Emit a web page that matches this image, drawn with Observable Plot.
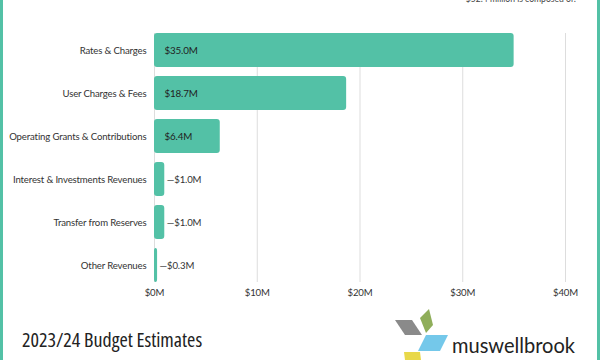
<!DOCTYPE html>
<html>
<head>
<meta charset="utf-8">
<script src="https://cdn.jsdelivr.net/npm/d3@7"></script>
<script src="https://cdn.jsdelivr.net/npm/@observablehq/plot@0.6"></script>
<style>
  html, body { margin: 0; padding: 0; background: #fff; }
  #wrap { position: relative; width: 600px; height: 360px; overflow: hidden; font-family: Lato, sans-serif; }
  .edge { position: absolute; top: 0; width: 3px; height: 360px; background: #53c1a6; }
  #topnote { position: absolute; top: -6px; right: 24px; font-size: 8.6px; line-height: 10px; color: #444; white-space: nowrap; font-family: Lato, sans-serif; }
  #chart { position: absolute; left: 0; top: 0; }
  #chart svg, #chart svg text { font-family: Lato, sans-serif !important; }
  #chart svg text { letter-spacing: -0.15px; }
  #title { position: absolute; left: 22px; top: 326px; font-family: "Open Sans", sans-serif; font-stretch: condensed; font-size: 20px; color: #222; white-space: nowrap; }
  #logo { position: absolute; left: 390px; top: 305px; }
</style>
</head>
<body>
<div id="wrap">
  <div class="edge" style="left:0"></div>
  <div class="edge" style="left:597px"></div>
  <div id="topnote">$52.4 million is composed of:</div>
  <div id="chart"></div>
  <div id="title">2023/24 Budget Estimates</div>
  <svg id="logo" width="200" height="55" viewBox="0 0 200 55">
    <polygon points="5,15 22,15 32,30 15,30" fill="#8a8a8a"/>
    <polygon points="39,4 43,20 36,28 30,13" fill="#8fae5a"/>
    <polygon points="36,30 58,30 50,46 28,46" fill="#74c8ea"/>
    <polygon points="14,47 30,47 31,55 15,55" fill="#e8d84a"/>
    <text x="62" y="48" font-family="Lato, sans-serif" font-size="21" fill="#222" textLength="123" lengthAdjust="spacingAndGlyphs">muswellbrook</text>
  </svg>
</div>
<script>
const categories = [
  "Rates & Charges",
  "User Charges & Fees",
  "Operating Grants & Contributions",
  "Interest & Investments Revenues",
  "Transfer from Reserves",
  "Other Revenues"
];
const values = [35.0, 18.7, 6.4, 1.0, 1.0, 0.3];
const xTicks = [0, 10, 20, 30, 40];

const data = categories.map((c, i) => ({category: c, value: values[i]}));
const inside = data.filter(d => d.value >= 5);
const outside = data.filter(d => d.value < 5);
const green = "#53c1a6";
const fmt = d => `$${d}M`;

const chart = Plot.plot({
  width: 600,
  height: 305,
  marginLeft: 154,
  marginRight: 35,
  marginTop: 33,
  marginBottom: 23,
  style: {fontFamily: "Lato, sans-serif", fontSize: "10px", color: "#333", background: "transparent"},
  x: {domain: [0, 40], ticks: xTicks, tickFormat: fmt, label: null},
  y: {domain: categories, label: null, paddingInner: 0.21, paddingOuter: 0},
  marks: [
    Plot.gridX(xTicks, {stroke: "#ddd", strokeOpacity: 1}),
    Plot.barX(data, {x: "value", y: "category", fill: green, rx: 3}),
    Plot.text(inside, {x: 0, y: "category", text: d => `$${d.value.toFixed(1)}M`, textAnchor: "start", dx: 10, fill: "#222", fontSize: 9.8}),
    Plot.text(outside, {x: "value", y: "category", text: d => `—$${d.value.toFixed(1)}M`, textAnchor: "start", dx: 2, fill: "#333", fontSize: 9.6}),
    Plot.axisY({tickSize: 0, tickPadding: 8, fontSize: 9.6, fill: "#333"}),
    Plot.axisX(xTicks, {tickSize: 0, tickPadding: 7, fontSize: 9.6, fill: "#333", tickFormat: fmt})
  ]
});
document.getElementById("chart").appendChild(chart);
</script>
</body>
</html>
